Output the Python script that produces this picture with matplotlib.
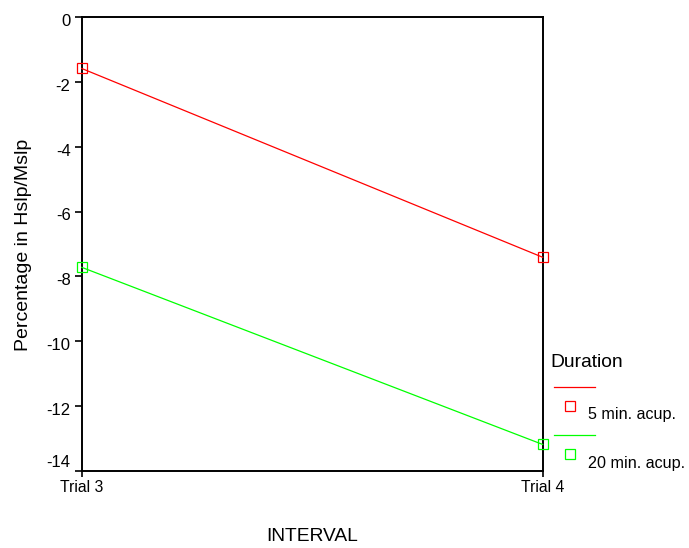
import matplotlib.pyplot as plt
from matplotlib.lines import Line2D
from matplotlib.transforms import ScaledTranslation

plt.rcParams['font.family'] = ['Liberation Sans', 'DejaVu Sans']

# data
intervals = ["Trial 3", "Trial 4"]
groups = ["5 min. acup.", "20 min. acup."]
five_min = [-1.58, -7.41]
twenty_min = [-7.72, -13.19]
colors = ["#ff0000", "#00ff00"]
y_ticks = [0, -2, -4, -6, -8, -10, -12, -14]

W, H = 689, 548
fig = plt.figure(figsize=(W / 100, H / 100), dpi=100)
ax = fig.add_axes([81.7 / W, 1 - 470.7 / H, (542.7 - 81.7) / W, (470.7 - 17.3) / H])

x = list(range(len(intervals)))
for vals, c in zip([five_min, twenty_min], colors):
    ax.plot(x, vals, color=c, lw=0.9, marker="s", ms=7, mfc="none", mec=c, mew=0.9,
            clip_on=False, zorder=3)

ax.set_xlim(0, 1)
ax.set_ylim(-14, 0)
ax.set_xticks(x)
ax.set_xticklabels(intervals, fontsize=11.3)
ax.set_yticks(y_ticks)
ax.set_yticklabels([str(v) for v in y_ticks], fontsize=12)
for s in ax.spines.values():
    s.set_linewidth(1.4)
ax.tick_params(axis="y", direction="out", length=5, width=1.2, pad=3)
ax.tick_params(axis="x", direction="out", length=4, width=1.2, pad=3)

# SPSS sets y labels a touch below their ticks, and lifts the bottom one off the x axis
ylabs = ax.get_yticklabels()
for lab in ylabs[:-1]:
    lab.set_transform(lab.get_transform() + ScaledTranslation(0, -2 / 72, fig.dpi_scale_trans))
ylabs[-1].set_transform(ylabs[-1].get_transform() + ScaledTranslation(0, 7 / 72, fig.dpi_scale_trans))

fig.text(24 / W, 1 - 245 / H, "Percentage in Hslp/Mslp", fontsize=14, rotation=90,
         ha="center", va="center")
fig.text(312 / W, 1 - 536.7 / H, "INTERVAL", fontsize=13.8, ha="center", va="center")

# legend, laid out like the SPSS one
fig.text(550 / W, 1 - 362.7 / H, "Duration", fontsize=13.9, ha="left", va="center")
line_y = [386.7, 435]
mark_y = [405.7, 454]
text_y = [415, 463.3]
for g, c, ly, my, ty in zip(groups, colors, line_y, mark_y, text_y):
    fig.add_artist(Line2D([554 / W, 595 / W], [1 - ly / H, 1 - ly / H], color=c, lw=0.9))
    fig.add_artist(Line2D([570.3 / W], [1 - my / H], marker="s", ms=7, mfc="none", mec=c, mew=0.9))
    fig.text(588 / W, 1 - ty / H, g, fontsize=11.6, ha="left", va="center")

fig.savefig("out.png", dpi=100)
